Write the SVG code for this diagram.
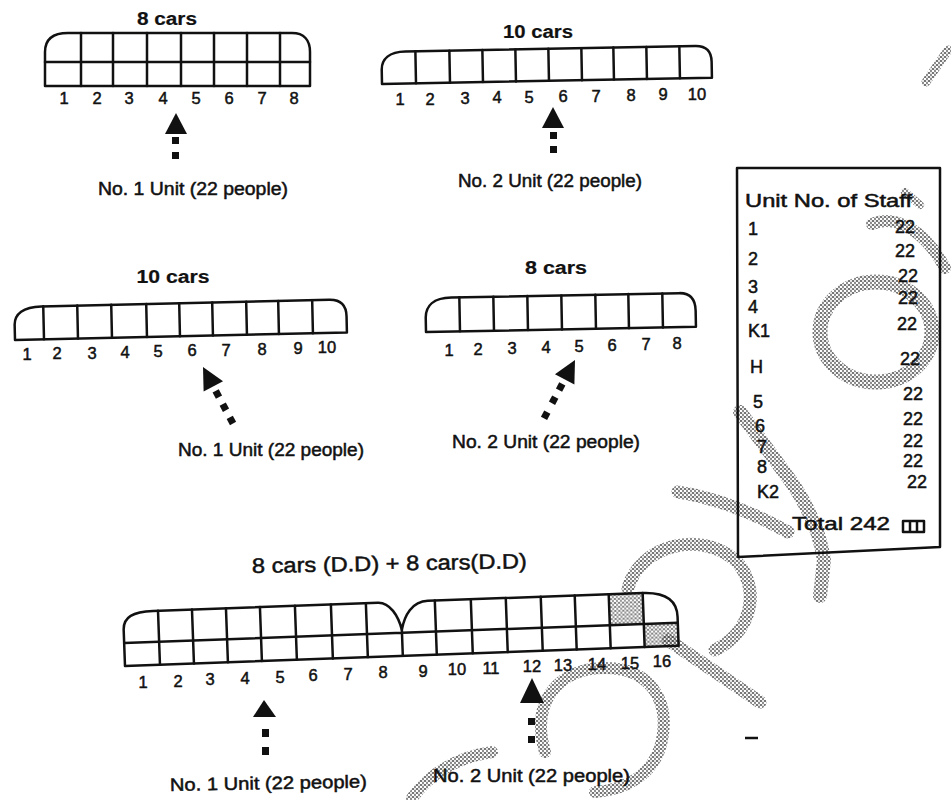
<svg xmlns="http://www.w3.org/2000/svg" width="951" height="800" viewBox="0 0 951 800">
<style>
.car{fill:none;stroke:#111;stroke-width:2.5;stroke-linejoin:round;stroke-linecap:round}
.t{font-family:"Liberation Sans",Arial,Helvetica,sans-serif;fill:#111;stroke:#111;stroke-width:0.5}
.num{font-size:16.5px;text-anchor:middle}
.ttl{font-size:18px;font-weight:bold;text-anchor:middle;stroke-width:0.2}
.lbl{font-size:18px}
.tb{font-size:18px}
.ar{fill:#111}
.st{fill:none;stroke:url(#stip);stroke-linecap:round;opacity:0.9}
</style>
<defs>
<pattern id="stip" width="4" height="4" patternUnits="userSpaceOnUse">
<circle cx="1" cy="1" r="1" fill="#333"/>
<circle cx="3" cy="3" r="0.9" fill="#444"/>
<circle cx="3" cy="1" r="0.5" fill="#666"/>
</pattern>
</defs>
<rect width="951" height="800" fill="#fff"/>

<!-- scan stipple marks -->
<g id="stipple">
<ellipse class="st" cx="876" cy="332" rx="56" ry="50" stroke-width="15"/>
<path class="st" d="M872,224 C895,214 925,230 945,268" stroke-width="12"/>
<path class="st" d="M905,192 L920,205" stroke-width="8"/>
<path class="st" d="M740,412 L790,480 Q818,520 824,560 L820,596" stroke-width="14"/>
<path class="st" d="M678,492 Q730,500 788,532" stroke-width="13"/>
<path class="st" d="M628,588 C640,545 700,530 735,560 C760,585 755,630 715,650" stroke-width="13"/>
<path class="st" d="M668,640 L760,702" stroke-width="13"/>
<path class="st" d="M545,752 C530,700 560,668 605,668 C650,668 670,700 662,740 C655,775 625,790 595,792" stroke-width="12"/>
<path class="st" d="M412,798 Q440,760 492,752" stroke-width="12"/>
<path class="st" d="M926,82 L948,50" stroke-width="9"/>
</g>

<!-- Train 1: 8 cars -->
<g id="train1">
<text class="t ttl" x="167" y="25" textLength="60" lengthAdjust="spacingAndGlyphs">8 cars</text>
<path class="car" d="M45,86 L45,52 C45,39 53,33 68,33 L292,33 C304,33 310,40 310,52 L310,86 Z"/>
<path class="car" d="M45,62 H310 M81,33 V86 M113,33 V86 M147,33 V86 M181,33 V86 M214,33 V86 M247,33 V86 M280,33 V86"/>
<g class="t num">
<text x="64" y="104">1</text><text x="97" y="104">2</text><text x="129" y="104">3</text><text x="163" y="104">4</text>
<text x="196" y="104">5</text><text x="229" y="104">6</text><text x="262" y="104">7</text><text x="294" y="104">8</text>
</g>
</g>
<g id="arrow1">
<polygon class="ar" points="176,113 165,134 187,134"/>
<rect class="ar" x="172" y="137" width="7" height="7"/>
<rect class="ar" x="172" y="152" width="7" height="7"/>
</g>
<g id="label1">
<text class="t lbl" x="98" y="195" textLength="190" lengthAdjust="spacingAndGlyphs">No. 1 Unit (22 people)</text>
</g>

<!-- Train 2: 10 cars -->
<g id="train2">
<text class="t ttl" x="538" y="38" textLength="70" lengthAdjust="spacingAndGlyphs">10 cars</text>
<g transform="rotate(-1.1 382 84)">
<path class="car" d="M382,84 L382,70 C382,59 390,52 406,52 L696,52 C707,52 712,58 712,68 L712,84 Z"/>
<path class="car" d="M416,52 V84 M450,52 V84 M483,52 V84 M516,52 V84 M549,52 V84 M582,52 V84 M614,52 V84 M647,52 V84 M680,52 V84"/>
</g>
<g class="t num">
<text x="400" y="105">1</text><text x="430" y="104.5">2</text><text x="465" y="104">3</text><text x="497" y="103">4</text>
<text x="529" y="102.5">5</text><text x="563" y="102">6</text><text x="596" y="101.5">7</text><text x="631" y="101">8</text>
<text x="663" y="100">9</text><text x="697" y="99.5">10</text>
</g>
</g>
<g id="arrow2">
<polygon class="ar" points="553,107 542,128 564,128"/>
<rect class="ar" x="550" y="132" width="7" height="7"/>
<rect class="ar" x="550" y="146" width="7" height="7"/>
</g>
<g id="label2">
<text class="t lbl" x="458" y="187" textLength="184" lengthAdjust="spacingAndGlyphs">No. 2 Unit (22 people)</text>
</g>

<!-- Train 3: 10 cars -->
<g id="train3">
<text class="t ttl" x="173" y="283" textLength="73" lengthAdjust="spacingAndGlyphs">10 cars</text>
<g transform="rotate(-1.3 15 340)">
<path class="car" d="M15,340 L15,325 C15,314 24,307 42,307 L330,307 C342,307 347,313 347,324 L347,340 Z"/>
<path class="car" d="M44,307 V340 M78,307 V340 M112,307 V340 M147,307 V340 M180,307 V340 M213,307 V340 M247,307 V340 M279,307 V340 M313,307 V340"/>
</g>
<g class="t num">
<text x="27" y="360">1</text><text x="57" y="359">2</text><text x="92" y="358.5">3</text><text x="125" y="357.5">4</text>
<text x="158" y="357">5</text><text x="192" y="356">6</text><text x="226" y="355.5">7</text><text x="262" y="354.5">8</text>
<text x="298" y="354">9</text><text x="327" y="353">10</text>
</g>
</g>
<g id="arrow3" transform="translate(203 367) rotate(-28)">
<polygon class="ar" points="0,0 -11,22 11,22"/>
<rect class="ar" x="-3.5" y="27" width="7" height="7"/>
<rect class="ar" x="-3.5" y="42" width="7" height="7"/>
<rect class="ar" x="-3.5" y="57" width="7" height="7"/>
</g>
<g id="label3">
<text class="t lbl" x="178" y="456" textLength="186" lengthAdjust="spacingAndGlyphs">No. 1 Unit (22 people)</text>
</g>

<!-- Train 4: 8 cars -->
<g id="train4">
<text class="t ttl" x="556" y="274" textLength="62" lengthAdjust="spacingAndGlyphs">8 cars</text>
<g transform="rotate(-1.1 426 332)">
<path class="car" d="M426,332 L426,318 C426,306 434,298 452,298 L680,298 C692,298 696,305 696,316 L696,332 Z"/>
<path class="car" d="M460,298 V332 M494,298 V332 M528,298 V332 M562,298 V332 M596,298 V332 M629,298 V332 M663,298 V332"/>
</g>
<g class="t num">
<text x="449" y="356">1</text><text x="478" y="355">2</text><text x="512" y="354">3</text><text x="546" y="353">4</text>
<text x="579" y="352">5</text><text x="612" y="351">6</text><text x="646" y="350">7</text><text x="677" y="349">8</text>
</g>
</g>
<g id="arrow4" transform="translate(575 360) rotate(28)">
<polygon class="ar" points="0,0 -11,22 11,22"/>
<rect class="ar" x="-3.5" y="27" width="7" height="7"/>
<rect class="ar" x="-3.5" y="42" width="7" height="7"/>
<rect class="ar" x="-3.5" y="59" width="7" height="7"/>
</g>
<g id="label4">
<text class="t lbl" x="452" y="448" textLength="188" lengthAdjust="spacingAndGlyphs">No. 2 Unit (22 people)</text>
</g>

<!-- Train 5: 8 cars (D.D) + 8 cars (D.D) -->
<g id="train5">
<text class="t" x="252" y="573" font-size="21" textLength="275" lengthAdjust="spacingAndGlyphs" transform="rotate(-1 252 573)">8 cars (D.D) + 8 cars(D.D)</text>
<g transform="rotate(-2.1 125 666)">
<rect x="611" y="612" width="34" height="31" fill="url(#stip)" opacity="0.8"/>
<rect x="645" y="643" width="34" height="23" fill="url(#stip)" opacity="0.8"/>
<path class="car" d="M125,666 L125,630 C125,617 135,612 155,612 L380,612 C392,612 400,626 403,640 C406,626 414,612 430,612 L645,612 C668,612 679,620 679,637 L679,666 Z"/>
<path class="car" d="M125,643 H679 M403,640 V666"/>
<path class="car" d="M160,612 V666 M194,612 V666 M228,612 V666 M262,612 V666 M297,612 V666 M333,612 V666 M368,612 V666"/>
<path class="car" d="M437,612 V666 M473,612 V666 M508,612 V666 M543,612 V666 M577,612 V666 M611,612 V666 M645,612 V666"/>
</g>
<g class="t num">
<text x="143" y="688">1</text><text x="178" y="687">2</text><text x="210" y="685">3</text><text x="245" y="684">4</text>
<text x="280" y="683">5</text><text x="313" y="681">6</text><text x="348" y="680">7</text><text x="383" y="678">8</text>
<text x="423" y="677">9</text><text x="457" y="675">10</text><text x="491" y="674">11</text><text x="532" y="672">12</text>
<text x="563" y="671">13</text><text x="597" y="670">14</text><text x="630" y="669">15</text><text x="662" y="667">16</text>
</g>
</g>
<g id="arrow5">
<polygon class="ar" points="264,700 253,717 276,717"/>
<rect class="ar" x="262" y="729" width="7" height="8"/>
<rect class="ar" x="262" y="747" width="7" height="8"/>
</g>
<g id="arrow6">
<polygon class="ar" points="532,678 520,703 544,703"/>
<rect class="ar" x="528" y="718" width="7" height="7"/>
<rect class="ar" x="528" y="736" width="7" height="7"/>
</g>
<g id="label5">
<text class="t lbl" x="170" y="791" textLength="197" lengthAdjust="spacingAndGlyphs" transform="rotate(-1 170 791)">No. 1 Unit (22 people)</text>
</g>
<g id="label6">
<text class="t lbl" x="433" y="782" textLength="197" lengthAdjust="spacingAndGlyphs">No. 2 Unit (22 people)</text>
</g>

<!-- Staff table -->
<g id="table">
<path class="car" d="M737,168 L940,168 L940,547 L738,557 Z" stroke-width="2.6"/>
<text class="t tb" x="745" y="207" textLength="167" lengthAdjust="spacingAndGlyphs" stroke-width="0.7">Unit No. of Staff</text>
<g class="t tb">
<text x="748" y="235">1</text>
<text x="748" y="265">2</text>
<text x="748" y="293">3</text>
<text x="748" y="313">4</text>
<text x="748" y="337">K1</text>
<text x="750" y="373">H</text>
<text x="753" y="408">5</text>
<text x="755" y="432">6</text>
<text x="757" y="453">7</text>
<text x="757" y="473">8</text>
<text x="757" y="498">K2</text>
<text x="895" y="233">22</text>
<text x="895" y="257">22</text>
<text x="898" y="282">22</text>
<text x="898" y="304">22</text>
<text x="897" y="330">22</text>
<text x="900" y="365">22</text>
<text x="903" y="400">22</text>
<text x="903" y="425">22</text>
<text x="903" y="447">22</text>
<text x="903" y="467">22</text>
<text x="907" y="488">22</text>
</g>
<text class="t tb" x="792" y="530" textLength="98" lengthAdjust="spacingAndGlyphs" stroke-width="0.7">Total 242</text>
<path class="car" d="M903,521 H924 V532 H903 Z M910,521 V532 M917,521 V532" stroke-width="2.2"/>
</g>

<line x1="745" y1="738" x2="758" y2="738" stroke="#111" stroke-width="2.5"/>
</svg>
